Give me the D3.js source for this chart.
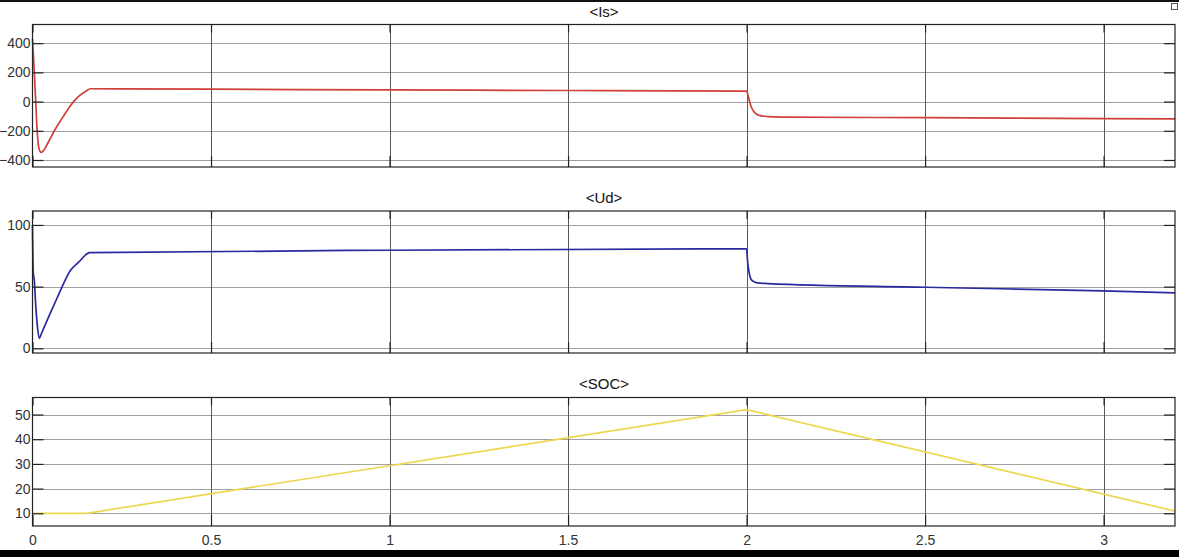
<!DOCTYPE html>
<html>
<head>
<meta charset="utf-8">
<script src="https://cdn.jsdelivr.net/npm/d3@7"></script>
<style>
  body { margin: 0; background: #fff; }
  svg { display: block; font-family: "Liberation Sans", Arial, sans-serif; }
</style>
</head>
<body>
<div id="chart"></div>
<script>
// Time axis ticks (seconds)
const xTicks = [0, 0.5, 1, 1.5, 2, 2.5, 3];

// <Is> trace: [time, value]
const isSeries = [
  [0, 430], [0.003, 300], [0.006, 150], [0.009, 0], [0.013, -200], [0.018, -320],
  [0.024, -348], [0.03, -338], [0.045, -275], [0.06, -205], [0.08, -125], [0.1, -50],
  [0.115, 0], [0.13, 38], [0.15, 72], [0.162, 88], [0.5, 85], [1, 80], [1.5, 76],
  [2, 72], [2.004, 45], [2.01, -15], [2.02, -68], [2.035, -94], [2.06, -103],
  [2.1, -106], [2.5, -110], [3, -116], [3.2, -118]
];
const isTicks = [-400, -200, 0, 200, 400];

// <Ud> trace
const udSeries = [
  [0, 100], [0.002, 62], [0.005, 55], [0.009, 35], [0.013, 20], [0.019, 8],
  [0.025, 12], [0.04, 22], [0.06, 35], [0.08, 48], [0.106, 63], [0.13, 70],
  [0.16, 77.5], [1, 79.5], [2, 80.6], [2.003, 70], [2.008, 60], [2.015, 55],
  [2.03, 53], [2.06, 52.5], [2.5, 49.5], [3, 46.5], [3.2, 45]
];
const udTicks = [0, 50, 100];

// <SOC> trace
const socSeries = [
  [0, 10], [0.152, 10], [2, 52], [3.2, 10.9]
];
const socTicks = [10, 20, 30, 40, 50];

const W = 1179, H = 557;
const left = 32.5, right = 1175;

const panels = [
  { title: "<Is>", data: isSeries, ticks: isTicks, domain: [-448, 528], top: 24.5, bottom: 167, color: "#d0403c", titleY: 17, curve: d3.curveMonotoneX },
  { title: "<Ud>", data: udSeries, ticks: udTicks, domain: [-3.8, 111.3], top: 211, bottom: 353, color: "#2a2aa0", titleY: 203, curve: d3.curveMonotoneX },
  { title: "<SOC>", data: socSeries, ticks: socTicks, domain: [4.85, 56.9], top: 397.5, bottom: 526, color: "#ecd850", titleY: 389, curve: d3.curveLinear }
];

const svg = d3.select("#chart")
  .append("svg")
  .attr("width", W)
  .attr("height", H);

svg.append("rect").attr("width", W).attr("height", H).attr("fill", "#fff");

// black frame edges from the screenshot
svg.append("rect").attr("x", 0).attr("y", 0).attr("width", W).attr("height", 2).attr("fill", "#111");
svg.append("rect").attr("x", 0).attr("y", 550).attr("width", W).attr("height", 7).attr("fill", "#000");
svg.append("rect").attr("x", 1171.5).attr("y", 3.5).attr("width", 6).attr("height", 6)
  .attr("fill", "none").attr("stroke", "#555");

const x = d3.scaleLinear().domain([0, 3.2]).range([left, right]);
const fmt = d3.format("~g");

panels.forEach((p, pi) => {
  const y = d3.scaleLinear().domain(p.domain).range([p.bottom, p.top]);
  const g = svg.append("g");

  // horizontal grid
  g.selectAll(".hgrid")
    .data(p.ticks)
    .enter()
    .append("line")
    .attr("x1", left).attr("x2", right)
    .attr("y1", d => Math.round(y(d)) + 0.5).attr("y2", d => Math.round(y(d)) + 0.5)
    .attr("stroke", "#a0a0a0").attr("stroke-width", 1);

  // vertical grid
  g.selectAll(".vgrid")
    .data(xTicks.slice(1))
    .enter()
    .append("line")
    .attr("x1", d => Math.round(x(d)) + 0.5).attr("x2", d => Math.round(x(d)) + 0.5)
    .attr("y1", p.top).attr("y2", p.bottom)
    .attr("stroke", "#5a5a5a").attr("stroke-width", 1);

  // trace
  const line = d3.line()
    .x(d => x(d[0]))
    .y(d => y(d[1]))
    .curve(p.curve);

  g.append("path")
    .datum(p.data)
    .attr("fill", "none")
    .attr("stroke", p.color)
    .attr("stroke-width", 1.7)
    .attr("d", line);

  // axes box
  g.append("rect")
    .attr("x", left).attr("y", p.top)
    .attr("width", right - left).attr("height", p.bottom - p.top)
    .attr("fill", "none").attr("stroke", "#222").attr("stroke-width", 1.2);

  // y ticks inside, both sides
  const yAxisL = d3.axisLeft(y).tickValues(p.ticks).tickSize(-11).tickPadding(14);
  const gl = g.append("g").attr("transform", `translate(${left},0)`).call(yAxisL);
  const yAxisR = d3.axisRight(y).tickValues(p.ticks).tickSize(-11).tickFormat("");
  const gr = g.append("g").attr("transform", `translate(${right},0)`).call(yAxisR);
  [gl, gr].forEach(a => {
    a.select(".domain").remove();
    a.selectAll(".tick line").attr("stroke", "#222").attr("stroke-width", 1.2);
  });
  gl.selectAll(".tick text")
    .attr("x", -2)
    .attr("font-size", 14)
    .attr("fill", "#333")
    .attr("font-family", "Liberation Sans, Arial, sans-serif");

  // x ticks inside, top and bottom
  const xb = d3.axisBottom(x).tickValues(xTicks).tickSize(-11).tickFormat(fmt);
  const xt = d3.axisTop(x).tickValues(xTicks).tickSize(-8).tickFormat("");
  const gb = g.append("g").attr("transform", `translate(0,${p.bottom})`).call(xb);
  const gt = g.append("g").attr("transform", `translate(0,${p.top})`).call(xt);
  [gb, gt].forEach(a => {
    a.select(".domain").remove();
    a.selectAll(".tick line").attr("stroke", "#222").attr("stroke-width", 1.2);
  });
  if (pi === panels.length - 1) {
    gb.selectAll(".tick text")
      .attr("y", 9)
      .attr("font-size", 14)
      .attr("fill", "#333")
      .attr("font-family", "Liberation Sans, Arial, sans-serif");
  } else {
    gb.selectAll(".tick text").remove();
  }

  // title
  svg.append("text")
    .attr("x", 604)
    .attr("y", p.titleY)
    .attr("text-anchor", "middle")
    .attr("font-size", 15)
    .attr("fill", "#111")
    .text(p.title);
});
</script>
</body>
</html>
